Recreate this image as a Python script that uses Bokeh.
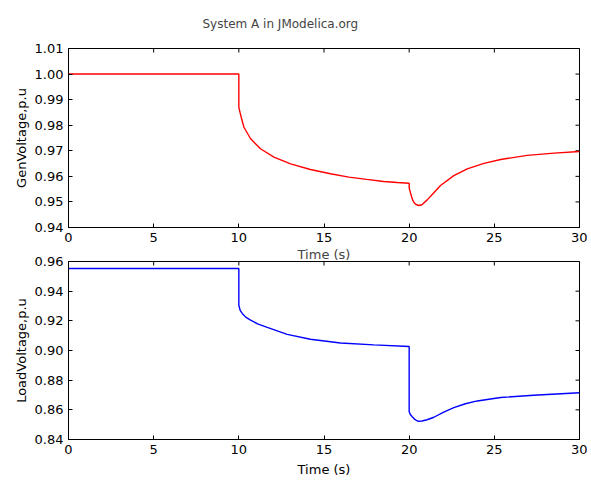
import math
from bokeh.plotting import figure
from bokeh.layouts import column
from bokeh.models import Range1d, LinearAxis, FixedTicker, NumeralTickFormatter
from bokeh.embed import file_html
from bokeh.resources import INLINE

title_text = "System A in JModelica.org"
x_label = "Time (s)"
gen_label = "GenVoltage,p.u"
load_label = "LoadVoltage,p.u"

x_ticks = [0, 5, 10, 15, 20, 25, 30]
gen_ticks = [0.94, 0.95, 0.96, 0.97, 0.98, 0.99, 1.00, 1.01]
load_ticks = [0.84, 0.86, 0.88, 0.90, 0.92, 0.94, 0.96]

gen_t = [0, 10, 10, 10.07, 10.14, 10.3, 10.69, 11.27, 12.06, 13.04, 14.2, 15.38, 16.46, 17.5, 18.5,
         19.3, 20, 20, 20.08, 20.18, 20.28, 20.4, 20.57, 20.75, 21.06, 21.45, 21.84, 22.62, 23.41,
         24.39, 25.37, 26.93, 28.5, 30]
gen_v = [1.0, 1.0, 0.987, 0.985, 0.9831, 0.9792, 0.9747, 0.9708, 0.9675, 0.9649, 0.9627, 0.961,
         0.9597, 0.9588, 0.958, 0.9576, 0.9573, 0.9555, 0.9535, 0.9512, 0.9498, 0.949, 0.9486,
         0.9489, 0.9508, 0.9536, 0.9564, 0.9603, 0.9629, 0.9651, 0.9666, 0.9682, 0.9691, 0.9697]

load_t = [0, 10, 10, 10.08, 10.2, 10.4, 10.69, 11.1, 11.67, 12.84, 14.2, 15.97, 17.93, 20,
          20, 20.06, 20.18, 20.33, 20.51, 20.75, 21.05, 21.45, 22, 22.62, 23.3, 24, 25.37, 27.3, 30]
load_v = [0.9553, 0.9553, 0.9305, 0.927, 0.925, 0.9225, 0.9205, 0.918, 0.9156, 0.9109, 0.9076,
          0.9051, 0.9038, 0.9027, 0.8587, 0.857, 0.8553, 0.8535, 0.8523, 0.8525, 0.8533, 0.855,
          0.8583, 0.8615, 0.8641, 0.866, 0.8683, 0.8698, 0.8715]

FONT = "DejaVu Sans"
FS = "13px"


def style_axis(ax, ticks, fmt=None):
    ax.ticker = FixedTicker(ticks=ticks)
    if fmt:
        ax.formatter = NumeralTickFormatter(format=fmt)
    ax.major_tick_in = 4
    ax.major_tick_out = 0
    ax.minor_tick_line_color = None
    ax.axis_line_color = "black"
    ax.major_tick_line_color = "black"
    ax.major_label_text_font = FONT
    ax.major_label_text_color = "black"
    ax.major_label_text_font_size = FS
    ax.major_label_standoff = 5
    ax.axis_label_text_font = FONT
    ax.axis_label_text_font_size = FS
    ax.axis_label_text_font_style = "normal"
    ax.axis_label_text_color = "black"


def make_fig(t, v, color, yticks, ylabel, y0, y1, top_border, bottom_border, frame_h, xlabel):
    p = figure(width=587, frame_width=511, frame_height=frame_h,
               x_range=Range1d(0, 30), y_range=Range1d(y0, y1),
               output_backend="svg", toolbar_location=None,
               min_border_left=68, min_border_right=8,
               min_border_top=top_border, min_border_bottom=bottom_border)
    p.xaxis.visible = False
    p.yaxis.visible = False
    p.grid.visible = False
    p.outline_line_color = "black"
    p.background_fill_color = "white"
    p.border_fill_color = "white"

    bottom = LinearAxis(axis_label=xlabel)
    style_axis(bottom, x_ticks)
    bottom.axis_label_standoff = 5
    p.add_layout(bottom, "below")
    left = LinearAxis(axis_label=ylabel)
    style_axis(left, yticks, "0.00")
    left.axis_label_standoff = 3
    p.add_layout(left, "left")

    # inward ticks on top and right edges (clipped to the frame)
    p.scatter(x=x_ticks, y=[y1] * len(x_ticks), marker="dash", angle=math.pi / 2,
              size=8, line_color="black", line_width=1)
    p.scatter(x=[30] * len(yticks), y=yticks, marker="dash",
              size=8, line_color="black", line_width=1)

    p.line(t, v, line_color=color, line_width=1.4)
    return p


# top panel: its x-axis label is drawn as the lower panel's heading so the two can share space
p1 = make_fig(gen_t, gen_v, "#ff0000", gen_ticks, gen_label, 0.94, 1.01, 48, 17, 179, None)
p1.title.text = title_text
p1.title.text_font = FONT
p1.title.text_font_size = "12px"
p1.title.text_font_style = "normal"
p1.title.align = "left"
p1.title.vertical_align = "top"
p1.title.offset = 134
p1.title.standoff = 32

p2 = make_fig(load_t, load_v, "#0000ff", load_ticks, load_label, 0.84, 0.96, 15, 38, 178, x_label)
p2.title.text = x_label
p2.title.text_font = FONT
p2.title.text_font_size = FS
p2.title.text_font_style = "normal"
p2.title.align = "center"
p2.title.standoff = 0

layout = column(p1, p2, spacing=0)
open("out.html", "w").write(file_html(layout, INLINE))
